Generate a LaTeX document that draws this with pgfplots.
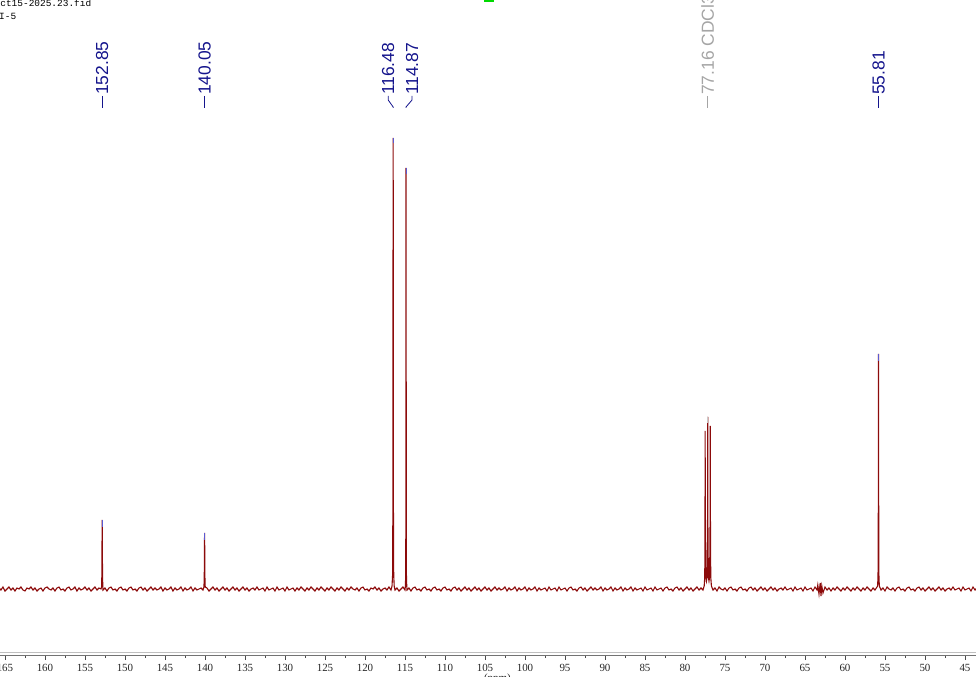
\documentclass[border=0pt]{standalone}
\usepackage{pgfplots}
\pgfplotsset{compat=1.18}
\usepackage{fontspec}
\setmainfont{Liberation Serif}
\setsansfont{Liberation Sans}
\newfontfamily\monofont{Liberation Mono}
\definecolor{specred}{RGB}{140,10,10}
\definecolor{peaklbl}{RGB}{20,20,140}
\definecolor{tipblue}{RGB}{90,90,210}
\definecolor{solvgray}{RGB}{165,165,165}
\begin{document}
\begin{tikzpicture}
\begin{axis}[
  name=ax,
  scale only axis,
  width=976bp, height=655.5bp,
  xmin=43.625, xmax=165.625,
  ymin=-66.5, ymax=589,
  x dir=reverse,
  clip=false,
  axis x line*=bottom,
  axis y line=none,
  ytick=\empty,
  xtick={45,50,...,165},
  minor x tick num=1,
  tick align=outside,
  major tick length=4.5bp,
  minor tick length=2.5bp,
  tick style={black!70, line width=0.6bp},
  axis line style={black!55, line width=0.8bp},
  xticklabel style={font=\fontsize{11}{12}\selectfont, text=black!85, inner sep=0pt, yshift=-4bp},
  /pgf/number format/assume math mode=true,
]
% spectrum (ppm, height above baseline)
\addplot[specred, line width=1.1bp, mark=none] coordinates {
(165.75,1)(165.5,-1)(165.25,2)(165,-2)
(164.75,0)(164.5,2)(164.25,-1)(164,1)
(163.75,-2)(163.5,1)(163.25,0)(163,2)
(162.75,-1)(162.5,-2)(162.25,1)(162,0)
(161.75,2)(161.5,-1)(161.25,1)(161,-2)
(160.75,0)(160.5,1)(160.25,-2)(160,1)
(159.75,2)(159.5,0)(159.25,-1)(159,1)
(158.75,-2)(158.5,1)(158.25,2)(158,-1)
(157.75,0)(157.5,-2)(157.25,1)(157,2)
(156.75,-1)(156.5,0)(156.25,2)(156,-2)
(155.75,1)(155.5,-1)(155.25,0)(155,2)
(154.75,-1)(154.5,1)(154.25,-2)(154,0)
(153.75,2)(153.5,-1)(153.25,1)(153,0)
(152.93,2)(152.89,14)(152.87,45)(152.85,69)(152.83,45)(152.81,14)(152.77,2)
(152.75,-1)(152.5,1)(152.25,-2)(152,1)
(151.75,2)(151.5,-1)(151.25,0)(151,-2)
(150.75,1)(150.5,2)(150.25,-1)(150,0)
(149.75,-2)(149.5,1)(149.25,2)(149,-1)
(148.75,0)(148.5,-2)(148.25,1)(148,2)
(147.75,-1)(147.5,1)(147.25,-2)(147,0)
(146.75,2)(146.5,-1)(146.25,1)(146,-1)
(145.75,0)(145.5,2)(145.25,-2)(145,1)
(144.75,-1)(144.5,0)(144.25,2)(144,-2)
(143.75,1)(143.5,-1)(143.25,0)(143,2)
(142.75,-2)(142.5,1)(142.25,-1)(142,0)
(141.75,2)(141.5,-2)(141.25,1)(141,-1)
(140.75,0)(140.5,1)(140.25,-1)
(140.13,2)(140.09,12)(140.07,38)(140.05,56)(140.03,38)(140.01,12)(139.97,2)
(139.75,1)(139.5,-2)(139.25,0)(139,2)
(138.75,-1)(138.5,1)(138.25,-2)(138,0)
(137.75,2)(137.5,-1)(137.25,1)(137,-2)
(136.75,0)(136.5,2)(136.25,-1)(136,1)
(135.75,-2)(135.5,0)(135.25,2)(135,-1)
(134.75,1)(134.5,-2)(134.25,0)(134,1)
(133.75,-1)(133.5,2)(133.25,-1)(133,0)
(132.75,1)(132.5,-2)(132.25,2)(132,-1)
(131.75,0)(131.5,1)(131.25,-2)(131,2)
(130.75,-1)(130.5,0)(130.25,1)(130,-2)
(129.75,2)(129.5,-1)(129.25,0)(129,1)
(128.75,-2)(128.5,1)(128.25,-1)(128,2)
(127.75,0)(127.5,-2)(127.25,1)(127,-1)
(126.75,2)(126.5,0)(126.25,-2)(126,1)
(125.75,-1)(125.5,2)(125.25,0)(125,-2)
(124.75,1)(124.5,-1)(124.25,2)(124,0)
(123.75,-2)(123.5,1)(123.25,-1)(123,2)
(122.75,0)(122.5,-2)(122.25,1)(122,-1)
(121.75,2)(121.5,0)(121.25,-1)(121,1)
(120.75,-2)(120.5,1)(120.25,2)(120,-1)
(119.75,0)(119.5,-2)(119.25,1)(119,0)
(118.75,2)(118.5,-1)(118.25,1)(118,-2)
(117.75,0)(117.5,1)(117.25,-1)(117,2)
(116.75,-1)
(116.62,3)(116.55,14)(116.51,90)(116.49,380)(116.48,451)(116.47,380)(116.45,90)(116.41,14)(116.35,3)
(116.25,-1)(116,1)
(115.75,-2)(115.5,0)(115.25,2)(115,-1)
(114.95,3)(114.91,14)(114.89,80)(114.88,360)(114.87,421)(114.86,360)(114.84,80)(114.82,14)(114.78,3)
(114.75,-1)(114.5,1)(114.25,-2)(114,1)
(113.75,2)(113.5,-1)(113.25,0)(113,-2)
(112.75,1)(112.5,2)(112.25,-1)(112,0)
(111.75,-2)(111.5,1)(111.25,2)(111,-1)
(110.75,0)(110.5,-2)(110.25,1)(110,2)
(109.75,-1)(109.5,0)(109.25,-2)(109,1)
(108.75,2)(108.5,-1)(108.25,1)(108,-2)
(107.75,0)(107.5,2)(107.25,-1)(107,1)
(106.75,-2)(106.5,0)(106.25,2)(106,-1)
(105.75,1)(105.5,-2)(105.25,0)(105,2)
(104.75,-1)(104.5,1)(104.25,-2)(104,0)
(103.75,2)(103.5,-1)(103.25,1)(103,-1)
(102.75,0)(102.5,2)(102.25,-2)(102,1)
(101.75,-1)(101.5,0)(101.25,2)(101,-2)
(100.75,1)(100.5,-1)(100.25,0)(100,2)
(99.75,-2)(99.5,1)(99.25,-1)(99,0)
(98.75,2)(98.5,-2)(98.25,1)(98,-1)
(97.75,0)(97.5,1)(97.25,-2)(97,2)
(96.75,-1)(96.5,0)(96.25,1)(96,-2)
(95.75,2)(95.5,-1)(95.25,0)(95,1)
(94.75,-2)(94.5,1)(94.25,2)(94,-1)
(93.75,0)(93.5,-2)(93.25,1)(93,2)
(92.75,-1)(92.5,1)(92.25,-2)(92,0)
(91.75,2)(91.5,-1)(91.25,1)(91,-1)
(90.75,0)(90.5,2)(90.25,-2)(90,1)
(89.75,-1)(89.5,0)(89.25,2)(89,-2)
(88.75,1)(88.5,-1)(88.25,0)(88,2)
(87.75,-2)(87.5,1)(87.25,-1)(87,0)
(86.75,2)(86.5,-2)(86.25,1)(86,-1)
(85.75,0)(85.5,1)(85.25,-2)(85,2)
(84.75,-1)(84.5,0)(84.25,1)(84,-2)
(83.75,2)(83.5,-1)(83.25,0)(83,1)
(82.75,-2)(82.5,1)(82.25,2)(82,-1)
(81.75,0)(81.5,-2)(81.25,1)(81,2)
(80.75,-1)(80.5,1)(80.25,-2)(80,0)
(79.75,2)(79.5,-1)(79.25,1)(79,-2)
(78.75,0)(78.5,2)(78.25,-1)(78,1)
(77.75,-1)
(77.6,3)(77.53,12)(77.50,60)(77.48,158)(77.46,60)(77.40,12)(77.32,8)(77.24,12)
(77.18,70)(77.16,172)(77.14,70)(77.08,12)(77.0,8)(76.92,12)
(76.86,70)(76.84,163)(76.82,70)(76.78,12)(76.7,3)
(76.5,-1)(76.25,1)(76,-2)
(75.75,2)(75.5,0)(75.25,-1)(75,1)
(74.75,-2)(74.5,1)(74.25,2)(74,-1)
(73.75,0)(73.5,-2)(73.25,1)(73,2)
(72.75,-1)(72.5,0)(72.25,-2)(72,1)
(71.75,2)(71.5,-1)(71.25,1)(71,-2)
(70.75,0)(70.5,2)(70.25,-1)(70,1)
(69.75,-2)(69.5,0)(69.25,2)(69,-1)
(68.75,1)(68.5,-2)(68.25,0)(68,1)
(67.75,-1)(67.5,2)(67.25,-1)(67,0)
(66.75,1)(66.5,-2)(66.25,2)(66,-1)
(65.75,0)(65.5,1)(65.25,-2)(65,2)
(64.75,-1)(64.5,0)(64.25,1)(64,-2)
(63.75,2)(63.5,-1)(63.4,4)(63.25,-5)(63.1,6)(63,-7)(62.9,3)(62.75,-4)(62.5,2)(62.25,-1)
(62,1)
(61.75,-2)(61.5,1)(61.25,-1)(61,2)
(60.75,0)(60.5,-2)(60.25,1)(60,-1)
(59.75,2)(59.5,0)(59.25,-2)(59,1)
(58.75,-1)(58.5,2)(58.25,0)(58,-2)
(57.75,1)(57.5,-1)(57.25,2)(57,0)
(56.75,-2)(56.5,1)(56.25,-1)(56.0,2)
(55.92,3)(55.87,14)(55.83,90)(55.81,235)(55.79,90)(55.76,14)(55.71,3)
(55.5,-1)(55.25,1)(55,-2)
(54.75,2)(54.5,0)(54.25,-1)(54,1)
(53.75,-2)(53.5,1)(53.25,2)(53,-1)
(52.75,0)(52.5,-2)(52.25,1)(52,2)
(51.75,-1)(51.5,0)(51.25,-2)(51,1)
(50.75,2)(50.5,-1)(50.25,1)(50,-2)
(49.75,0)(49.5,2)(49.25,-1)(49,1)
(48.75,-2)(48.5,0)(48.25,2)(48,-1)
(47.75,1)(47.5,-2)(47.25,0)(47,1)
(46.75,-1)(46.5,2)(46.25,-1)(46,0)
(45.75,1)(45.5,-2)(45.25,2)(45,-1)
(44.75,0)(44.5,1)(44.25,-2)(44,2)(43.75,-1)(43.5,1)
};
% peak-pick markers on the peak tops
\addplot[tipblue, line width=1bp] coordinates {(152.85,62)(152.85,69)};
\addplot[tipblue, line width=1bp] coordinates {(140.05,49)(140.05,56)};
\addplot[tipblue, line width=1bp] coordinates {(116.48,446)(116.48,451)};
\addplot[tipblue, line width=1bp] coordinates {(114.87,415)(114.87,421)};
\addplot[solvgray!60, line width=1bp] coordinates {(77.16,166)(77.16,172)};
\addplot[tipblue, line width=1bp] coordinates {(55.81,228)(55.81,235)};

% second (light) axis line
\draw[black!25, line width=0.8bp] (axis cs:165.625,-63) -- (axis cs:43.625,-63);

% peak labels
\tikzset{plbl/.style={rotate=90, anchor=west, inner sep=0pt,
  font=\sffamily\fontsize{17.5}{20}\selectfont}}
\draw[peaklbl, line width=0.8bp] (axis cs:152.85,493) -- (axis cs:152.85,481);
\node[plbl, text=peaklbl] at (axis cs:152.85,494) {152.85};
\draw[peaklbl, line width=0.8bp] (axis cs:140.05,493) -- (axis cs:140.05,481);
\node[plbl, text=peaklbl] at (axis cs:140.05,494) {140.05};
\draw[peaklbl, line width=0.8bp] (axis cs:117.1,493) -- (axis cs:117.1,489) -- (axis cs:116.48,482) -- (axis cs:116.48,481);
\node[plbl, text=peaklbl] at (axis cs:117.1,494) {116.48};
\draw[peaklbl, line width=0.8bp] (axis cs:114.12,493) -- (axis cs:114.12,489) -- (axis cs:114.87,482) -- (axis cs:114.87,481);
\node[plbl, text=peaklbl] at (axis cs:114.12,494) {114.87};
\draw[solvgray, line width=0.8bp] (axis cs:77.16,493) -- (axis cs:77.16,481);
\node[plbl, text=solvgray] at (axis cs:77.16,494) {77.16 CDCl3};
\draw[peaklbl, line width=0.8bp] (axis cs:55.81,493) -- (axis cs:55.81,481);
\node[plbl, text=peaklbl] at (axis cs:55.81,494) {55.81};

% file header text (cut at the left edge)
\node[anchor=base west, inner sep=0pt, font=\monofont\fontsize{9.5}{11}\selectfont]
  at (axis cs:165.6,582) {ct15-2025.23.fid};
\node[anchor=base west, inner sep=0pt, font=\monofont\fontsize{9.5}{11}\selectfont]
  at (axis cs:165.75,569) {I-5};
% green marker at the top
\fill[green!85!black] (axis cs:105.125,589) rectangle (axis cs:103.875,587);
% axis title, mostly below the page
\node[anchor=north, inner sep=0pt, font=\fontsize{11}{12}\selectfont, text=black!85]
  at (axis cs:103.44,-85) {(ppm)};

\coordinate (bl) at (axis cs:165.625,-88);
\coordinate (tr) at (axis cs:43.625,589);
\end{axis}
\pgfresetboundingbox
\path[use as bounding box] (bl) rectangle (tr);
\end{tikzpicture}
\end{document}
